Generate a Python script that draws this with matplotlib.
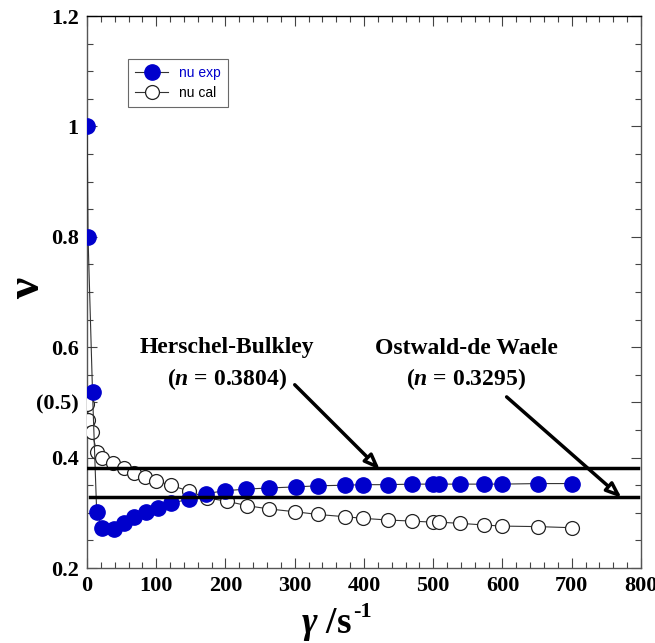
import matplotlib.pyplot as plt
from matplotlib.ticker import MultipleLocator

plt.rcParams['mathtext.fontset'] = 'custom'
plt.rcParams['mathtext.rm'] = 'Liberation Serif:bold'
plt.rcParams['mathtext.bf'] = 'Liberation Serif:bold'
plt.rcParams['mathtext.it'] = 'Liberation Serif:italic:bold'

# nu exp (filled blue) and nu cal (open)
x_exp = [0.3, 1.5, 8, 14, 22, 39, 54, 68, 85, 102, 121, 147, 172, 200, 230, 263,
         302, 334, 372, 399, 434, 470, 500, 509, 538, 573, 599, 652, 701]
nu_exp = [1.0, 0.8, 0.518, 0.302, 0.273, 0.271, 0.282, 0.293, 0.301, 0.309, 0.317,
          0.325, 0.335, 0.340, 0.343, 0.345, 0.347, 0.349, 0.350, 0.351, 0.351,
          0.352, 0.352, 0.352, 0.352, 0.352, 0.352, 0.353, 0.353]

x_cal = [0.5, 2, 7, 14, 21, 38, 53, 68, 84, 100, 121, 148, 173, 202, 231, 263,
         300, 334, 372, 399, 434, 470, 500, 509, 538, 573, 599, 652, 701]
nu_cal = [0.497, 0.468, 0.447, 0.411, 0.399, 0.390, 0.381, 0.373, 0.364, 0.358,
          0.350, 0.339, 0.327, 0.321, 0.313, 0.307, 0.302, 0.297, 0.293, 0.290,
          0.287, 0.285, 0.283, 0.283, 0.281, 0.278, 0.276, 0.275, 0.273]

n_hb = 0.3804
n_ow = 0.3295

yticks = [0.2, 0.4, 0.5, 0.6, 0.8, 1.0, 1.2]
ytick_labels = ['0.2', '0.4', '(0.5)', '0.6', '0.8', '1', '1.2']
xticks = [0, 100, 200, 300, 400, 500, 600, 700, 800]

serif = 'Liberation Serif'

fig = plt.figure(figsize=(6.55, 6.43), dpi=100)
ax = fig.add_axes([0.1328, 0.1166, 0.8458, 0.8585])

ax.plot(x_exp, nu_exp, '-o', color='#333333', lw=0.8, ms=11,
        mfc='#0000CC', mec='#0000CC', label='nu exp', zorder=4)
ax.plot(x_cal, nu_cal, '-o', color='#333333', lw=0.8, ms=10,
        mfc='white', mec='#222222', mew=0.9, label='nu cal', zorder=3)

ax.plot([0, 795], [n_hb, n_hb], color='black', lw=2.5, zorder=5)
ax.plot([5, 795], [n_ow, n_ow], color='black', lw=2.5, zorder=5)

txt = dict(ha='center', va='center', family=serif, fontweight='bold', fontsize=17)
ax.text(202, 0.600, 'Herschel-Bulkley', **txt)
ax.text(202, 0.543, r'($n$ = 0.3804)', **txt)
ax.text(548, 0.597, 'Ostwald-de Waele', **txt)
ax.text(548, 0.543, r'($n$ = 0.3295)', **txt)

arrow = dict(arrowstyle='-|>,head_length=0.9,head_width=0.35',
             lw=2.5, fc='white', ec='black', shrinkA=0, shrinkB=0)
ax.annotate('', xy=(423, 0.378), xytext=(300, 0.532), arrowprops=arrow)
ax.annotate('', xy=(772, 0.327), xytext=(606, 0.510), arrowprops=arrow)

ax.set_xlim(0, 800)
ax.set_ylim(0.2, 1.2)
ax.set_xticks(xticks)
ax.set_xticklabels([str(v) for v in xticks])
ax.set_yticks(yticks)
ax.set_yticklabels(ytick_labels)
ax.xaxis.set_minor_locator(MultipleLocator(20))
ax.yaxis.set_minor_locator(MultipleLocator(0.05))
ax.tick_params(which='both', direction='in', top=True, right=True, color='#444444')
ax.tick_params(which='major', length=7, width=0.8)
ax.tick_params(which='minor', length=4, width=0.8)
ax.tick_params(axis='x', pad=6)
ax.tick_params(axis='y', pad=6)
for lbl in ax.get_xticklabels() + ax.get_yticklabels():
    lbl.set_family(serif)
    lbl.set_fontweight('bold')
    lbl.set_fontsize(16)
for side, sp in ax.spines.items():
    sp.set_color('black' if side == 'top' else '#555555')
    sp.set_linewidth(1.0)

# axis labels
fig.text(28 / 655, 1 - 288 / 643, 'ν', rotation=90, ha='center', va='center',
         family=serif, fontweight='bold', fontsize=34)
fig.text(352 / 655, 1 - 633 / 643, r'$\gamma$ /s', ha='right', va='baseline',
         family=serif, fontweight='bold', fontsize=27)
fig.text(353 / 655, 1 - 617 / 643, '-1', ha='left', va='baseline',
         family=serif, fontweight='bold', fontsize=16)

leg = ax.legend(loc='upper left', bbox_to_anchor=(0.074, 0.922),
                prop={'family': 'Liberation Sans', 'size': 10},
                frameon=True, fancybox=False, edgecolor='#444444',
                handlelength=2.4, borderpad=0.5, labelspacing=0.4, borderaxespad=0)
leg.get_frame().set_linewidth(0.8)
leg.get_texts()[0].set_color('#0000CC')

fig.savefig('out.png', dpi=100)
